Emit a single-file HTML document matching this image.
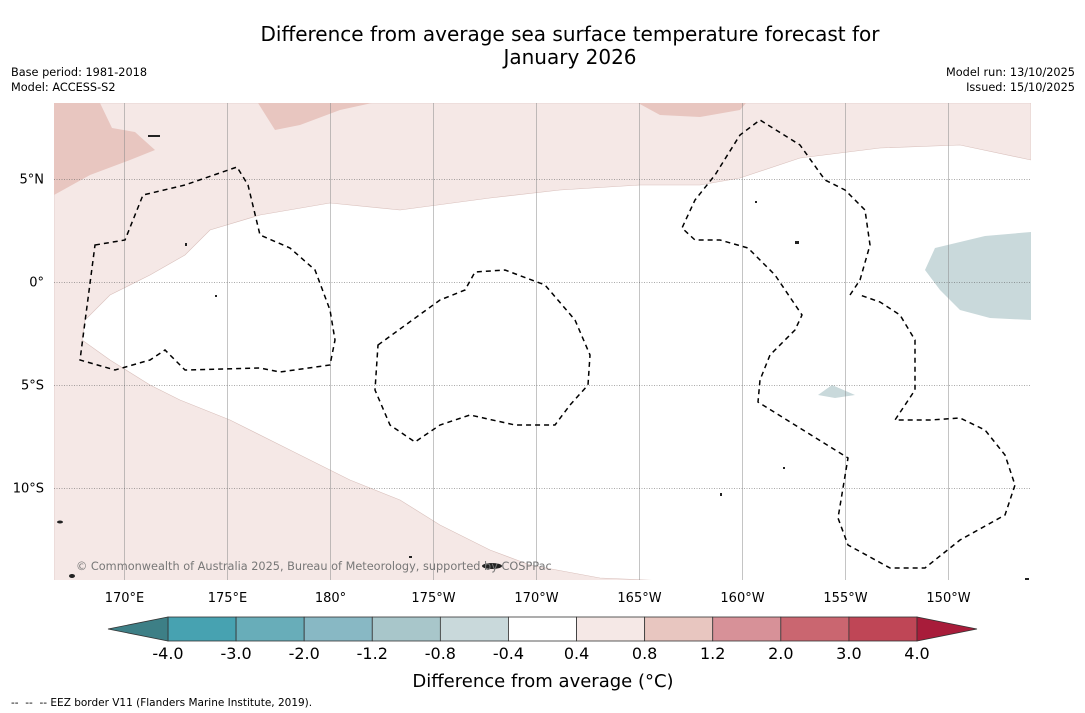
<!DOCTYPE html>
<html><head><meta charset="utf-8"><style>
body{margin:0;background:#fff;width:1085px;height:713px;overflow:hidden;font-family:"Liberation Sans","DejaVu Sans",sans-serif}
svg{position:absolute;left:0;top:0}
</style></head><body>
<svg width="1085" height="713" font-family="DejaVu Sans, Liberation Sans, sans-serif">
<text x="570" y="41" font-size="20" text-anchor="middle">Difference from average sea surface temperature forecast for</text>
<text x="570" y="64" font-size="20" text-anchor="middle">January 2026</text>
<text x="11" y="76" font-size="11.3">Base period: 1981-2018</text>
<text x="11" y="91" font-size="11.3">Model: ACCESS-S2</text>
<text x="1075" y="76" font-size="11.3" text-anchor="end">Model run: 13/10/2025</text>
<text x="1075" y="91" font-size="11.3" text-anchor="end">Issued: 15/10/2025</text>

<g>
<clipPath id="mc"><rect x="54" y="103" width="977" height="477"/></clipPath>
<g clip-path="url(#mc)">
<rect x="54" y="103" width="977" height="477" fill="#fff"/>
<path fill="#f5e8e6" stroke="#d9c0bc" stroke-width="0.6" d="M54,103 L1031,103 L1031,160 L960,145 L880,148 L800,158 L740,178 L700,185 L640,185 L560,190 L490,198 L400,210 L330,203 L260,215 L210,230 L185,255 L150,275 L110,295 L85,320 L82,340 L110,360 L150,385 L180,400 L230,420 L290,450 L350,480 L400,500 L440,525 L490,550 L530,565 L600,578 L690,582 L54,582 Z"/>
<path fill="#e8c6c0" d="M54,103 L100,103 L112,128 L135,132 L155,150 L130,160 L90,175 L54,195 Z"/>
<path fill="#e8c6c0" d="M258,103 L372,103 L340,110 L300,125 L275,130 Z"/>
<path fill="#e8c6c0" d="M638,103 L746,103 L740,110 L700,117 L660,115 Z"/>
<path fill="#c9d9db" d="M935,248 L985,236 L1031,232 L1031,320 L990,318 L960,310 L940,290 L925,270 Z"/>
<path fill="#c9d9db" d="M818,395 L832,385 L855,395 L835,398 Z"/>
<g stroke="#888" stroke-width="0.5">
<g id="vg"></g><g id="hg" stroke="#555" stroke-dasharray="1,1.5"></g>
</g>
<g fill="none" stroke="#000" stroke-width="1.5" stroke-dasharray="5,4">
<path d="M95,245 L125,240 L143,195 L185,185 L237,167 L248,185 L260,235 L290,248 L315,270 L330,310 L335,340 L330,365 L280,372 L260,368 L185,370 L165,350 L150,360 L115,370 L80,360 Z"/>
<path d="M378,345 L440,300 L465,290 L475,272 L505,270 L545,285 L575,320 L590,355 L588,385 L570,405 L555,425 L515,425 L470,415 L440,425 L415,442 L390,425 L375,390 Z"/>
<path d="M850,295 L860,280 L870,245 L865,210 L845,190 L825,180 L800,145 L760,120 L740,135 L715,175 L695,200 L682,228 L695,240 L720,240 L748,248 L775,275 L802,315 L795,330 L770,355 L760,380 L758,402 L848,458 L838,518 L848,545 L890,568 L925,568 L960,540 L1005,515 L1015,485 L1005,455 L985,430 L960,418 L930,420 L895,420 L915,390 L915,340 L900,315 L880,302 L860,295"/>
</g>
<g fill="#222">
<ellipse cx="492" cy="566" rx="10" ry="3"/><ellipse cx="60" cy="522" rx="3" ry="1.5"/><ellipse cx="72" cy="576" rx="3" ry="2"/>
<rect x="795" y="241" width="4" height="3"/><rect x="755" y="201" width="2" height="2"/><rect x="783" y="467" width="2" height="2"/>
<rect x="215" y="295" width="2" height="2"/><rect x="185" y="243" width="2" height="3"/><rect x="409" y="556" width="3" height="2"/>
<rect x="720" y="493" width="2" height="3"/><rect x="148" y="135" width="12" height="2"/><rect x="1025" y="578" width="4" height="2"/>
</g>
<text x="76" y="570" font-size="11.3" fill="#777">© Commonwealth of Australia 2025, Bureau of Meteorology, supported by COSPPac</text>
</g>
<g font-size="13" text-anchor="end" id="latl"></g>
<g font-size="13" text-anchor="middle" id="lonl"></g>
</g>

<g id="cbar"></g>
<text x="543" y="687" font-size="18" text-anchor="middle">Difference from average (°C)</text>
<text x="11" y="706" font-size="10.5" xml:space="preserve">--  --  -- EEZ border V11 (Flanders Marine Institute, 2019).</text>
</svg>
<script>
const lonTicks=[170,175,180,-175,-170,-165,-160,-155,-150];
const lonLabels=["170°E","175°E","180°","175°W","170°W","165°W","160°W","155°W","150°W"];
const latTicks=[5,0,-5,-10];
const latLabels=["5°N","0°","5°S","10°S"];
const cbTicks=[-4.0,-3.0,-2.0,-1.2,-0.8,-0.4,0.4,0.8,1.2,2.0,3.0,4.0];
const cbColors=["#47a2b1","#68adb9","#88b8c4","#a8c6ca","#c9d9db","#ffffff","#f5e8e6","#e8c6c0","#d79198","#ca6670","#bf4656"];
const NS="http://www.w3.org/2000/svg";
function xLon(l){const e=l<0?l+360:l;return 124+(e-170)*20.6;}
function yLat(l){return 282-l*20.6;}
function mk(t,a,p){const e=document.createElementNS(NS,t);for(const k in a)e.setAttribute(k,a[k]);p.appendChild(e);return e;}
const vg=document.getElementById('vg'),hg=document.getElementById('hg');
lonTicks.forEach((l,i)=>{const x=Math.round(xLon(l))+0.5;
 const ln=mk('line',{x1:x,x2:x,y1:103,y2:580},vg);
 
 
 const t=mk('text',{x:x,y:602},document.getElementById('lonl'));t.textContent=lonLabels[i];
 
 });
latTicks.forEach((l,i)=>{const y=Math.round(yLat(l))+0.5;
 const ln=mk('line',{x1:54,x2:1031,y1:y,y2:y},hg);
 
 
 const t=mk('text',{x:44,y:y+4},document.getElementById('latl'));t.textContent=latLabels[i];
 
 });
const cb=document.getElementById('cbar');const x0=168,x1=917,y0=617,h=24;const w=(x1-x0)/cbColors.length;
cbColors.forEach((c,i)=>{const r=mk('rect',{x:x0+i*w,y:y0,width:w,height:h,fill:c,stroke:'#333','stroke-width':0.8},cb);
 
 });
const la=mk('polygon',{points:`${x0},${y0} ${x0},${y0+h} 108,${y0+h/2}`,fill:'#3d7f86',stroke:'#333','stroke-width':0.8},cb);


const ra=mk('polygon',{points:`${x1},${y0} ${x1},${y0+h} 977,${y0+h/2}`,fill:'#a81c3a',stroke:'#333','stroke-width':0.8},cb);


cbTicks.forEach((v,i)=>{const t=mk('text',{x:x0+i*w,y:659,'font-size':16,'text-anchor':'middle'},cb);t.textContent=v.toFixed(1);
 
 });
</script>
</body></html>
